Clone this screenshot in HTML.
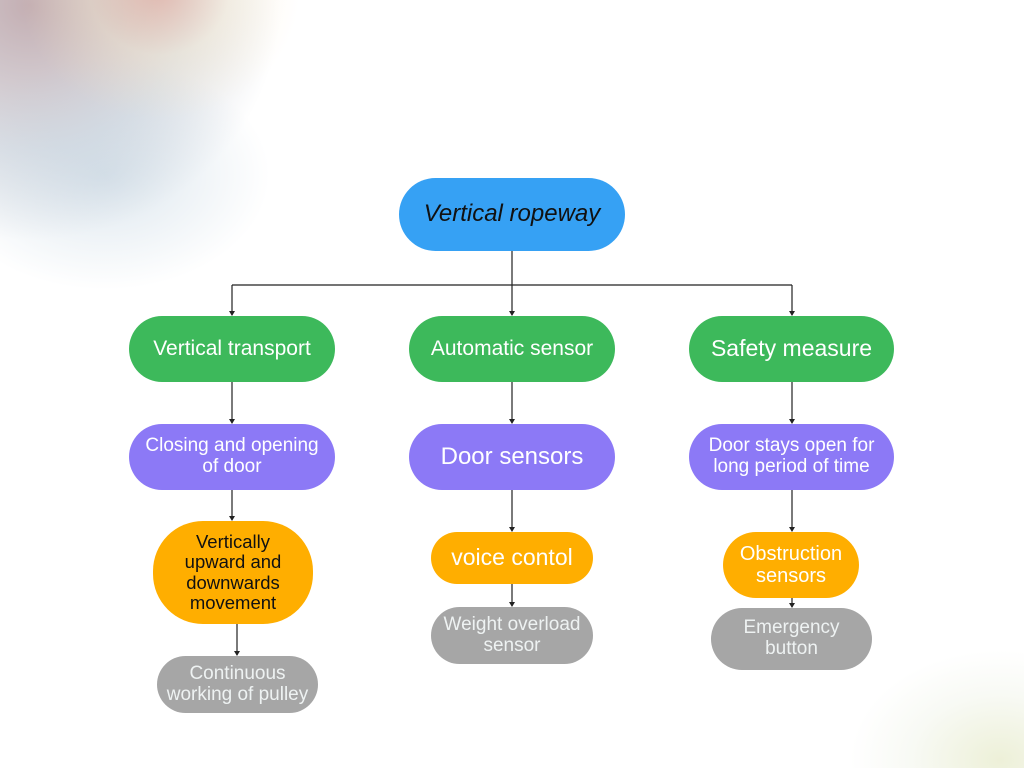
<!DOCTYPE html>
<html style="width:1024px;height:768px;overflow:hidden;"><head><style>
body{margin:0;width:1024px;height:768px;position:relative;overflow:hidden;font-family:"Liberation Sans",sans-serif;
background:
radial-gradient(ellipse 150px 110px at 200px 60px,rgba(185,210,225,.0),rgba(255,255,255,0)),
radial-gradient(ellipse 140px 130px at 160px -10px,rgba(230,160,140,.55),rgba(250,230,190,.3) 50%,rgba(255,255,255,0) 100%),
radial-gradient(ellipse 165px 115px at 105px 175px,rgba(185,205,220,.5),rgba(255,255,255,0) 100%),
radial-gradient(ellipse 250px 235px at 30px 5px,rgba(185,160,165,.85),rgba(195,200,210,.55) 62%,rgba(255,255,255,0) 100%),
radial-gradient(ellipse 150px 110px at 1000px 760px,rgba(225,230,190,.6),rgba(235,240,225,.35) 60%,rgba(255,255,255,0) 100%),
#fff;}
.n{position:absolute;display:flex;align-items:center;justify-content:center;text-align:center;border-radius:34px;color:#fff;box-sizing:border-box;line-height:1.1;}
.g{background:#3db95b;font-size:21px;}
.p{background:#8c79f6;font-size:19px;}
.o{background:#ffae00;font-size:20px;}
.y{background:#a6a6a6;font-size:19px;color:#eef2f2;}
svg{position:absolute;left:0;top:0;}
</style></head><body>
<svg width="1024" height="768">
<g stroke="#222" stroke-width="1.2" fill="none">
<path d="M512 251V285M232 285H792"/>
<path d="M232 285V315M512 285V315M792 285V315"/>
<path d="M232 382V423M232 490V520M237 624V655M512 382V423M512 490V531M512 584V606M792 382V423M792 490V531M792 598V607"/>
</g>
<g fill="#222">
<path d="M229 311h6l-3 5z M509 311h6l-3 5z M789 311h6l-3 5z"/>
<path d="M229 419h6l-3 5z M229 516h6l-3 5z M234 651h6l-3 5z M509 419h6l-3 5z M509 527h6l-3 5z M509 602h6l-3 5z M789 419h6l-3 5z M789 527h6l-3 5z M789 603h6l-3 5z"/>
</g>
</svg>
<div class="n" style="left:399px;top:178px;width:226px;height:73px;background:#36a1f4;color:#111;font-style:italic;font-size:24px;border-radius:37px;">Vertical ropeway</div>
<div class="n g" style="left:129px;top:316px;width:206px;height:66px;">Vertical transport</div>
<div class="n g" style="left:409px;top:316px;width:206px;height:66px;">Automatic sensor</div>
<div class="n g" style="left:689px;top:316px;width:205px;height:66px;font-size:23px;">Safety measure</div>
<div class="n p" style="left:129px;top:424px;width:206px;height:66px;">Closing and opening<br>of door</div>
<div class="n p" style="left:409px;top:424px;width:206px;height:66px;font-size:24px;">Door sensors</div>
<div class="n p" style="left:689px;top:424px;width:205px;height:66px;">Door stays open for<br>long period of time</div>
<div class="n o" style="left:153px;top:521px;width:160px;height:103px;color:#111;font-size:18.5px;border-radius:50px;">Vertically<br>upward and<br>downwards<br>movement</div>
<div class="n o" style="left:431px;top:532px;width:162px;height:52px;font-size:23px;">voice contol</div>
<div class="n o" style="left:723px;top:532px;width:136px;height:66px;">Obstruction<br>sensors</div>
<div class="n y" style="left:157px;top:656px;width:161px;height:57px;">Continuous<br>working of pulley</div>
<div class="n y" style="left:431px;top:607px;width:162px;height:57px;">Weight overload<br>sensor</div>
<div class="n y" style="left:711px;top:608px;width:161px;height:62px;">Emergency<br>button</div>
</body></html>
